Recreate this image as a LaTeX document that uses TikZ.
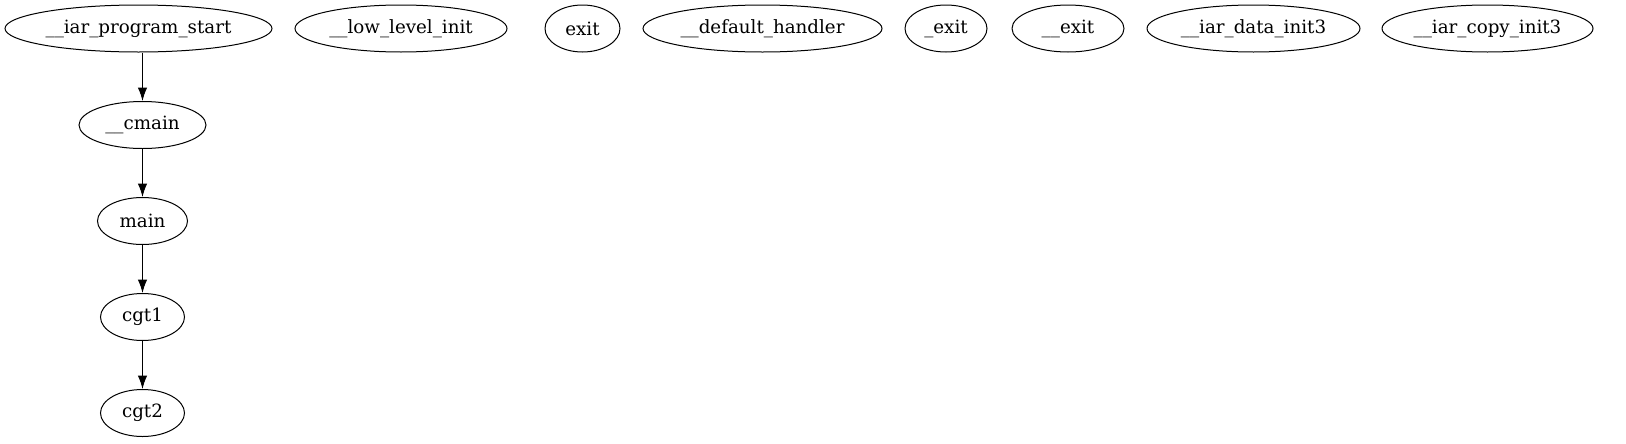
\documentclass[tikz,border=0pt]{standalone}
\usepackage{fontspec}
\setmainfont{DejaVu Serif}
\usetikzlibrary{shapes.geometric,arrows.meta}
\begin{document}
\begin{tikzpicture}[x=0.75pt,y=-0.75pt,
  gv/.style={draw,ellipse,inner sep=0pt,line width=0.75pt,minimum height=47*0.75pt,font=\fontsize{13.7}{16}\selectfont},
  edge/.style={line width=0.75pt,-{Latex[length=10pt,width=7pt]}}]
\useasboundingbox (0,0) rectangle (1626,443);
\node[gv,minimum width=267*0.75pt] (ps) at (138.5,28.5) {\_\_iar\_program\_start};
\node[gv,minimum width=212*0.75pt] (lli) at (401,28.5) {\_\_low\_level\_init};
\node[gv,minimum width=75*0.75pt] (exit) at (582.5,28.5) {exit};
\node[gv,minimum width=239*0.75pt] (dh) at (762.5,28.5) {\_\_default\_handler};
\node[gv,minimum width=82*0.75pt] (uexit) at (946,28.5) {\_exit};
\node[gv,minimum width=112*0.75pt] (uuexit) at (1068,28.5) {\_\_exit};
\node[gv,minimum width=213*0.75pt] (di) at (1253.5,28.5) {\_\_iar\_data\_init3};
\node[gv,minimum width=211*0.75pt] (ci) at (1487.5,28.5) {\_\_iar\_copy\_init3};
\node[gv,minimum width=127*0.75pt] (cmain) at (142.5,125) {\_\_cmain};
\node[gv,minimum width=90*0.75pt] (main) at (142.5,221) {main};
\node[gv,minimum width=84*0.75pt] (cgt1) at (142.5,317) {cgt1};
\node[gv,minimum width=84*0.75pt] (cgt2) at (142.5,413) {cgt2};
\draw[edge] (ps.south -| cmain.north) -- (cmain.north);
\draw[edge] (cmain) -- (main);
\draw[edge] (main) -- (cgt1);
\draw[edge] (cgt1) -- (cgt2);
\end{tikzpicture}
\end{document}
